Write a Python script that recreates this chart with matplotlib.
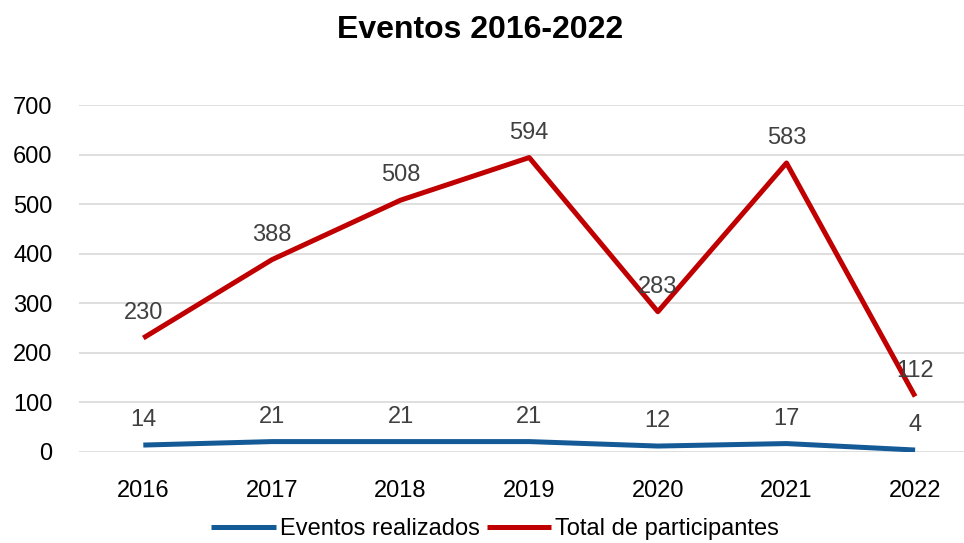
import matplotlib
matplotlib.use("Agg")
import matplotlib.pyplot as plt

plt.rcParams['font.family'] = ['Liberation Sans', 'DejaVu Sans']

years = ["2016", "2017", "2018", "2019", "2020", "2021", "2022"]
eventos = [14, 21, 21, 21, 12, 17, 4]
participantes = [230, 388, 508, 594, 283, 583, 112]
yticks = [0, 100, 200, 300, 400, 500, 600, 700]

fig = plt.figure(figsize=(9.64, 5.43), dpi=100)
W, H = 964, 543
left, right = 79 / W, 1.0
bottom, top = 1 - 452 / H, 1 - 105 / H
ax = fig.add_axes([left, bottom, right - left, top - bottom])

x = list(range(len(years)))
blue = "#145A96"
red = "#C00000"
ax.plot(x, eventos, color=blue, lw=3.6, label="Eventos realizados", solid_capstyle='butt', zorder=3)
ax.plot(x, participantes, color=red, lw=3.6, label="Total de participantes", solid_capstyle='butt', zorder=3)

for xi, v in zip(x, eventos):
    ax.annotate(str(v), (xi, v), xytext=(0, 18), textcoords='offset points',
                ha='center', va='center', fontsize=17, color='#404040', zorder=4)
for xi, v in zip(x, participantes):
    ax.annotate(str(v), (xi, v), xytext=(0, 18), textcoords='offset points',
                ha='center', va='center', fontsize=17, color='#404040', zorder=4)

ax.set_xlim(-0.5, 6.38)
ax.set_ylim(0, 700)
ax.set_yticks(yticks)
ax.set_yticklabels([str(t) for t in yticks])
ax.set_xticks(x)
ax.set_xticklabels(years)
ax.tick_params(axis='both', length=0, labelsize=17, colors='black')
ax.tick_params(axis='y', pad=19)
ax.tick_params(axis='x', pad=20)
ax.grid(axis='y', color='#D9D9D9', lw=1.2, zorder=0)
for s in ax.spines.values():
    s.set_visible(False)

fig.text(480 / W, 1 - 30 / H, "Eventos 2016-2022", ha='center', va='center',
         fontsize=23, fontweight='bold')

fig.legend(loc='center', bbox_to_anchor=(495 / W, 1 - 529 / H), ncol=2, frameon=False,
           fontsize=17, handlelength=2.75, handletextpad=0.15, columnspacing=0.3)

fig.savefig("out.png", dpi=100)
